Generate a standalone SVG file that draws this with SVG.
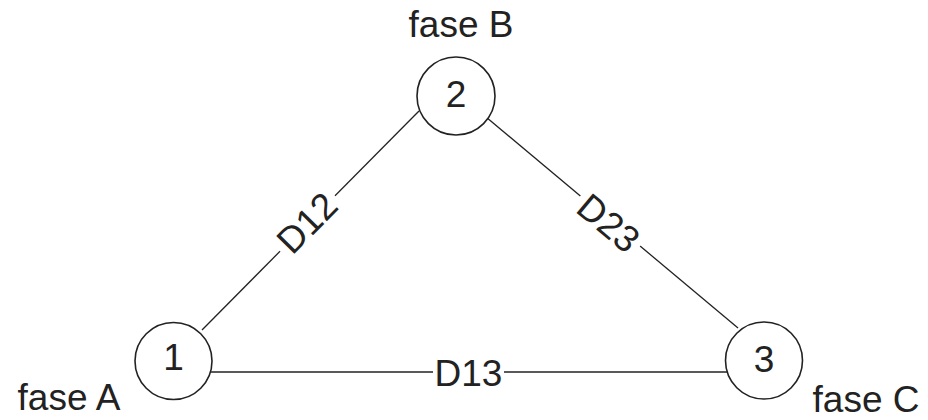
<svg xmlns="http://www.w3.org/2000/svg" width="928" height="420" viewBox="0 0 928 420">
<style>
  .node circle { fill: #fff; stroke: #222; stroke-width: 1.6; }
  .conn line { stroke: #222; stroke-width: 1.3; }
  text { font-family: "Liberation Sans", Arial, sans-serif; font-size: 37px; fill: #222; text-anchor: middle; }
  .bg { fill: #fff; }
</style>
<rect width="928" height="420" fill="#fff"/>
<g id="connectors" class="conn">
  <line x1="202" y1="330" x2="419" y2="111"/>
  <line x1="486" y1="117" x2="738" y2="328"/>
  <line x1="211" y1="372" x2="727" y2="372"/>
  <g transform="translate(306.5,222.5) rotate(-45.3)">
    <rect class="bg" x="-39" y="-16" width="78" height="32"/>
    <text x="0" y="13.5">D12</text>
  </g>
  <g transform="translate(609,222.5) rotate(39.9)">
    <rect class="bg" x="-39" y="-16" width="78" height="32"/>
    <text x="0" y="13.5">D23</text>
  </g>
  <g transform="translate(468.5,372)">
    <rect class="bg" x="-35.5" y="-16" width="71" height="32"/>
    <text x="0" y="13.5">D13</text>
  </g>
</g>
<g id="node1" class="node">
  <circle cx="173.5" cy="361" r="38.5"/>
  <text x="173.5" y="370">1</text>
  <text x="69" y="410">fase A</text>
</g>
<g id="node2" class="node">
  <circle cx="456" cy="96" r="39"/>
  <text x="456" y="107">2</text>
  <text x="461" y="37">fase B</text>
</g>
<g id="node3" class="node">
  <circle cx="764" cy="360.5" r="38.5"/>
  <text x="764" y="372">3</text>
  <text x="866" y="412">fase C</text>
</g>
</svg>
